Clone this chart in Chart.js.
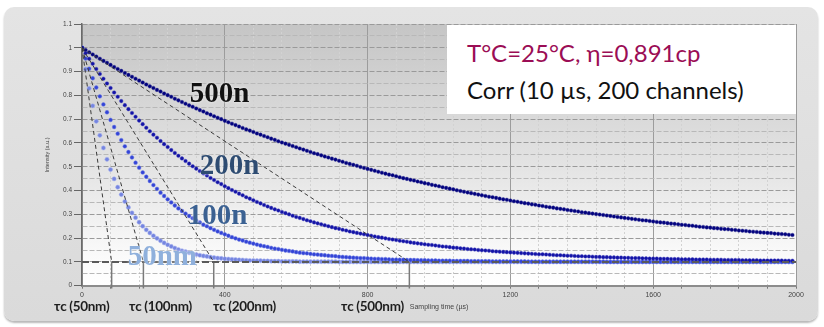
<!DOCTYPE html>
<html>
<head>
<meta charset="utf-8">
<script src="https://cdn.jsdelivr.net/npm/chart.js@4"></script>
<style>
  html, body { margin: 0; padding: 0; background: #fff; }
  #wrap { position: relative; width: 824px; height: 327px; overflow: hidden; }
  #panel {
    position: absolute; left: 4px; top: 7px; width: 814px; height: 314px;
    border-radius: 10px;
    background: linear-gradient(#e4e4e4, #dadada);
    box-shadow: 0 2px 2px rgba(0, 0, 0, 0.28);
  }
  canvas { position: absolute; left: 0; top: 0; }
  #note {
    position: absolute; left: 447px; top: 25px; width: 349px; height: 89px;
    background: #fff; font-family: Lato, "Open Sans", sans-serif; font-size: 24px;
  }
  #note div { position: absolute; left: 20px; line-height: 24px; white-space: nowrap; }
  .tau {
    position: absolute; top: 298px; font-family: Lato, sans-serif; font-weight: bold;
    font-size: 13.5px; color: #1e1e1e; white-space: nowrap; letter-spacing: -0.3px;
  }
</style>
</head>
<body>
<div id="wrap">
  <div id="panel"></div>
  <canvas id="corrChart" width="824" height="327"></canvas>
  <div id="note">
    <div style="top:16px;color:#9b0d55">T°C=25°C, η=0,891cp</div>
    <div style="top:53px;color:#111">Corr (10 µs, 200 channels)</div>
  </div>
  <div class="tau" style="left:54px">τc (50nm)</div>
  <div class="tau" style="left:129px">τc (100nm)</div>
  <div class="tau" style="left:213px">τc (200nm)</div>
  <div class="tau" style="left:341px">τc (500nm)</div>
</div>
<script>
// correlator channels: 10 us step, 200 channels
const sampleStepUs = 10;

const int500 = [
  1.000, 0.991, 0.981, 0.972, 0.963, 0.954, 0.945, 0.937, 0.928, 0.919,
  0.911, 0.903, 0.894, 0.886, 0.878, 0.870, 0.862, 0.854, 0.846, 0.838,
  0.831, 0.823, 0.816, 0.808, 0.801, 0.794, 0.786, 0.779, 0.772, 0.765,
  0.758, 0.752, 0.745, 0.738, 0.732, 0.725, 0.719, 0.712, 0.706, 0.700,
  0.693, 0.687, 0.681, 0.675, 0.669, 0.663, 0.657, 0.652, 0.646, 0.640,
  0.635, 0.629, 0.624, 0.618, 0.613, 0.607, 0.602, 0.597, 0.592, 0.587,
  0.582, 0.577, 0.572, 0.567, 0.562, 0.557, 0.553, 0.548, 0.543, 0.539,
  0.534, 0.530, 0.525, 0.521, 0.516, 0.512, 0.508, 0.504, 0.499, 0.495,
  0.491, 0.487, 0.483, 0.479, 0.475, 0.471, 0.467, 0.464, 0.460, 0.456,
  0.452, 0.449, 0.445, 0.442, 0.438, 0.435, 0.431, 0.428, 0.424, 0.421,
  0.418, 0.414, 0.411, 0.408, 0.405, 0.401, 0.398, 0.395, 0.392, 0.389,
  0.386, 0.383, 0.380, 0.377, 0.374, 0.372, 0.369, 0.366, 0.363, 0.361,
  0.358, 0.355, 0.353, 0.350, 0.347, 0.345, 0.342, 0.340, 0.337, 0.335,
  0.332, 0.330, 0.328, 0.325, 0.323, 0.321, 0.318, 0.316, 0.314, 0.312,
  0.309, 0.307, 0.305, 0.303, 0.301, 0.299, 0.297, 0.295, 0.293, 0.291,
  0.289, 0.287, 0.285, 0.283, 0.281, 0.279, 0.277, 0.275, 0.274, 0.272,
  0.270, 0.268, 0.266, 0.265, 0.263, 0.261, 0.260, 0.258, 0.256, 0.255,
  0.253, 0.252, 0.250, 0.248, 0.247, 0.245, 0.244, 0.242, 0.241, 0.239,
  0.238, 0.237, 0.235, 0.234, 0.232, 0.231, 0.230, 0.228, 0.227, 0.226,
  0.224, 0.223, 0.222, 0.221, 0.219, 0.218, 0.217, 0.216, 0.214, 0.213
];

const int200 = [
  1.000, 0.977, 0.954, 0.933, 0.911, 0.890, 0.870, 0.850, 0.831, 0.812,
  0.794, 0.776, 0.759, 0.742, 0.726, 0.710, 0.694, 0.679, 0.664, 0.649,
  0.635, 0.622, 0.608, 0.595, 0.583, 0.570, 0.558, 0.546, 0.535, 0.524,
  0.513, 0.502, 0.492, 0.482, 0.472, 0.463, 0.453, 0.444, 0.435, 0.427,
  0.418, 0.410, 0.402, 0.395, 0.387, 0.380, 0.372, 0.366, 0.359, 0.352,
  0.346, 0.339, 0.333, 0.327, 0.321, 0.316, 0.310, 0.305, 0.300, 0.294,
  0.289, 0.285, 0.280, 0.275, 0.271, 0.266, 0.262, 0.258, 0.254, 0.250,
  0.246, 0.242, 0.239, 0.235, 0.232, 0.228, 0.225, 0.222, 0.219, 0.216,
  0.213, 0.210, 0.207, 0.204, 0.202, 0.199, 0.196, 0.194, 0.192, 0.189,
  0.187, 0.185, 0.182, 0.180, 0.178, 0.176, 0.174, 0.172, 0.171, 0.169,
  0.167, 0.165, 0.164, 0.162, 0.160, 0.159, 0.157, 0.156, 0.154, 0.153,
  0.152, 0.150, 0.149, 0.148, 0.147, 0.145, 0.144, 0.143, 0.142, 0.141,
  0.140, 0.139, 0.138, 0.137, 0.136, 0.135, 0.134, 0.133, 0.132, 0.132,
  0.131, 0.130, 0.129, 0.128, 0.128, 0.127, 0.126, 0.126, 0.125, 0.124,
  0.124, 0.123, 0.123, 0.122, 0.121, 0.121, 0.120, 0.120, 0.119, 0.119,
  0.118, 0.118, 0.117, 0.117, 0.116, 0.116, 0.116, 0.115, 0.115, 0.114,
  0.114, 0.114, 0.113, 0.113, 0.113, 0.112, 0.112, 0.112, 0.111, 0.111,
  0.111, 0.111, 0.110, 0.110, 0.110, 0.110, 0.109, 0.109, 0.109, 0.109,
  0.108, 0.108, 0.108, 0.108, 0.108, 0.107, 0.107, 0.107, 0.107, 0.107,
  0.106, 0.106, 0.106, 0.106, 0.106, 0.106, 0.106, 0.105, 0.105, 0.105
];

const int100 = [
  1.000, 0.955, 0.912, 0.872, 0.833, 0.796, 0.762, 0.729, 0.697, 0.667,
  0.639, 0.612, 0.586, 0.562, 0.539, 0.517, 0.496, 0.476, 0.458, 0.440,
  0.423, 0.407, 0.391, 0.377, 0.363, 0.350, 0.337, 0.325, 0.314, 0.303,
  0.293, 0.284, 0.274, 0.266, 0.257, 0.250, 0.242, 0.235, 0.228, 0.222,
  0.216, 0.210, 0.204, 0.199, 0.194, 0.190, 0.185, 0.181, 0.177, 0.173,
  0.169, 0.166, 0.163, 0.159, 0.156, 0.154, 0.151, 0.148, 0.146, 0.144,
  0.141, 0.139, 0.137, 0.136, 0.134, 0.132, 0.131, 0.129, 0.128, 0.126,
  0.125, 0.124, 0.122, 0.121, 0.120, 0.119, 0.118, 0.117, 0.116, 0.116,
  0.115, 0.114, 0.113, 0.113, 0.112, 0.112, 0.111, 0.110, 0.110, 0.109,
  0.109, 0.108, 0.108, 0.108, 0.107, 0.107, 0.107, 0.106, 0.106, 0.106,
  0.105, 0.105, 0.105, 0.105, 0.104, 0.104, 0.104, 0.104, 0.104, 0.103,
  0.103, 0.103, 0.103, 0.103, 0.103, 0.102, 0.102, 0.102, 0.102, 0.102,
  0.102, 0.102, 0.102, 0.102, 0.102, 0.101, 0.101, 0.101, 0.101, 0.101,
  0.101, 0.101, 0.101, 0.101, 0.101, 0.101, 0.101, 0.101, 0.101, 0.101,
  0.101, 0.101, 0.101, 0.101, 0.101, 0.101, 0.101, 0.100, 0.100, 0.100,
  0.100, 0.100, 0.100, 0.100, 0.100, 0.100, 0.100, 0.100, 0.100, 0.100,
  0.100, 0.100, 0.100, 0.100, 0.100, 0.100, 0.100, 0.100, 0.100, 0.100,
  0.100, 0.100, 0.100, 0.100, 0.100, 0.100, 0.100, 0.100, 0.100, 0.100,
  0.100, 0.100, 0.100, 0.100, 0.100, 0.100, 0.100, 0.100, 0.100, 0.100,
  0.100, 0.100, 0.100, 0.100, 0.100, 0.100, 0.100, 0.100, 0.100, 0.100
];

const int50 = [
  1.000, 0.910, 0.829, 0.756, 0.691, 0.632, 0.579, 0.531, 0.488, 0.449,
  0.414, 0.383, 0.354, 0.329, 0.306, 0.286, 0.267, 0.250, 0.235, 0.222,
  0.210, 0.199, 0.189, 0.180, 0.172, 0.165, 0.158, 0.152, 0.147, 0.143,
  0.138, 0.134, 0.131, 0.128, 0.125, 0.123, 0.120, 0.118, 0.116, 0.115,
  0.113, 0.112, 0.111, 0.110, 0.109, 0.108, 0.107, 0.106, 0.106, 0.105,
  0.105, 0.104, 0.104, 0.103, 0.103, 0.103, 0.102, 0.102, 0.102, 0.102,
  0.102, 0.101, 0.101, 0.101, 0.101, 0.101, 0.101, 0.101, 0.101, 0.101,
  0.101, 0.101, 0.100, 0.100, 0.100, 0.100, 0.100, 0.100, 0.100, 0.100,
  0.100, 0.100, 0.100, 0.100, 0.100, 0.100, 0.100, 0.100, 0.100, 0.100,
  0.100, 0.100, 0.100, 0.100, 0.100, 0.100, 0.100, 0.100, 0.100, 0.100,
  0.100, 0.100, 0.100, 0.100, 0.100, 0.100, 0.100, 0.100, 0.100, 0.100,
  0.100, 0.100, 0.100, 0.100, 0.100, 0.100, 0.100, 0.100, 0.100, 0.100,
  0.100, 0.100, 0.100, 0.100, 0.100, 0.100, 0.100, 0.100, 0.100, 0.100,
  0.100, 0.100, 0.100, 0.100, 0.100, 0.100, 0.100, 0.100, 0.100, 0.100,
  0.100, 0.100, 0.100, 0.100, 0.100, 0.100, 0.100, 0.100, 0.100, 0.100,
  0.100, 0.100, 0.100, 0.100, 0.100, 0.100, 0.100, 0.100, 0.100, 0.100,
  0.100, 0.100, 0.100, 0.100, 0.100, 0.100, 0.100, 0.100, 0.100, 0.100,
  0.100, 0.100, 0.100, 0.100, 0.100, 0.100, 0.100, 0.100, 0.100, 0.100,
  0.100, 0.100, 0.100, 0.100, 0.100, 0.100, 0.100, 0.100, 0.100, 0.100,
  0.100, 0.100, 0.100, 0.100, 0.100, 0.100, 0.100, 0.100, 0.100, 0.100
];

// tangent construction: start level, baseline and read-off tau_c (us)
const startLevel = 1;
const baseLevel = 0.1;
const tauC = [83, 172, 369, 917];
const curveNames = ['50nm', '100n', '200n', '500n'];

const toPoints = vals => vals.map((v, i) => ({ x: i * sampleStepUs, y: v }));

// curve label anchors (data coords) and colours
const labelStyle = [
  { x: 225, y: 0.119, color: '#8fb0dc' },
  { x: 380, y: 0.291, color: '#3b6192' },
  { x: 413, y: 0.501, color: '#2e4c72' },
  { x: 385, y: 0.802, color: '#111111' }
];

const plotBg = {
  id: 'plotBg',
  beforeDraw(chart) {
    const { ctx, chartArea: a } = chart;
    const g = ctx.createLinearGradient(0, a.top, 0, a.bottom);
    g.addColorStop(0, '#c5c5c5');
    g.addColorStop(0.55, '#e4e4e4');
    g.addColorStop(0.9, '#fbfbfb');
    g.addColorStop(1, '#ffffff');
    ctx.save();
    ctx.fillStyle = g;
    ctx.fillRect(a.left, a.top, a.right - a.left, a.bottom - a.top);
    ctx.restore();
  },
  afterDraw(chart) {
    const { ctx, chartArea: a } = chart;
    ctx.save();
    ctx.strokeStyle = '#9a9a9a';
    ctx.lineWidth = 1;
    ctx.beginPath();
    ctx.moveTo(a.right + 0.5, a.top);
    ctx.lineTo(a.right + 0.5, a.bottom);
    ctx.stroke();
    ctx.restore();
  }
};

const curveLabels = {
  id: 'curveLabels',
  afterDatasetsDraw(chart) {
    const { ctx, scales: { x, y } } = chart;
    ctx.save();
    ctx.font = 'bold 29px "Liberation Serif", serif';
    ctx.textAlign = 'center';
    ctx.textBaseline = 'middle';
    ctx.shadowColor = 'rgba(255,255,255,0.8)';
    ctx.shadowBlur = 3;
    curveNames.forEach((name, i) => {
      const s = labelStyle[i];
      ctx.fillStyle = s.color;
      ctx.fillText(name, x.getPixelForValue(s.x), y.getPixelForValue(s.y));
    });
    ctx.restore();
  }
};

const pointStyles = [
  { bg: '#7585e0', border: 'rgba(170,180,240,0.9)', r: 2.1 },
  { bg: '#3344d6', border: 'rgba(110,125,230,0.8)', r: 1.9 },
  { bg: '#1414a6', border: 'rgba(60,60,190,0.7)', r: 1.8 },
  { bg: '#03037e', border: 'rgba(40,40,150,0.7)', r: 1.8 }
];
const seriesData = [int50, int100, int200, int500];

const datasets = [];
seriesData.forEach((vals, i) => {
  datasets.push({
    label: curveNames[i],
    data: toPoints(vals),
    showLine: false,
    pointRadius: pointStyles[i].r,
    pointBackgroundColor: pointStyles[i].bg,
    pointBorderColor: pointStyles[i].border,
    pointBorderWidth: 0.6,
    order: 10 - i
  });
});
tauC.forEach(t => {
  datasets.push({
    data: [{ x: 0, y: startLevel }, { x: t, y: baseLevel }],
    showLine: true, pointRadius: 0, borderColor: '#3a3a3a',
    borderWidth: 1, borderDash: [4, 3], order: 3
  });
  datasets.push({
    data: [{ x: t, y: baseLevel }, { x: t, y: -0.012 }],
    showLine: true, pointRadius: 0, borderColor: '#7a7a7a',
    borderWidth: 1.5, clip: false, order: 2
  });
});
datasets.push({
  data: [{ x: 0, y: baseLevel }, { x: 2000, y: baseLevel }],
  showLine: true, pointRadius: 0, borderColor: '#5a5a5a',
  borderWidth: 2, borderDash: [7, 3], order: 1
});

const isMajorY = v => Math.round(v * 100) % 10 === 0;

new Chart(document.getElementById('corrChart').getContext('2d'), {
  type: 'scatter',
  data: { datasets },
  options: {
    responsive: false,
    animation: false,
    events: [],
    layout: { padding: { top: 24, right: 28, left: 0, bottom: 0 } },
    plugins: { legend: { display: false }, tooltip: { enabled: false } },
    scales: {
      x: {
        type: 'linear', min: 0, max: 2000,
        ticks: {
          stepSize: 80, autoSkip: false, maxRotation: 0, padding: 2,
          color: '#444', font: { family: 'Liberation Sans', size: 7 },
          callback: v => (v % 400 === 0 ? v : '')
        },
        grid: {
          color: c => (c.tick && c.tick.value % 400 === 0 ? '#9c9c9c' : '#d2d2d2'),
          lineWidth: 1, tickLength: 3, tickColor: '#777'
        },
        border: {
          color: '#8c8c8c', width: 2,
          dash: c => (c.tick && c.tick.value % 400 === 0 ? [] : [2, 2])
        },
        title: {
          display: true, text: 'Sampling time (µs)', color: '#444',
          font: { family: 'Liberation Sans', size: 7 },
          padding: { top: 0, bottom: 16 }
        },
        afterFit: s => { s.height = 41.3; }
      },
      y: {
        min: 0, max: 1.1,
        ticks: {
          stepSize: 0.05, autoSkip: false, padding: 2,
          color: '#444', font: { family: 'Liberation Sans', size: 6.5 },
          callback: v => (isMajorY(v) ? String(Math.round(v * 10) / 10) : '')
        },
        grid: {
          color: c => (c.tick && isMajorY(c.tick.value) ? '#9a9a9a' : '#b8b8b8'),
          lineWidth: 1, tickLength: 8,
          tickColor: c => (c.tick && isMajorY(c.tick.value) ? '#666' : 'rgba(0,0,0,0)')
        },
        border: { color: '#6a6a6a', width: 1.5, dash: [5, 2] },
        title: {
          display: true, text: 'Intensity (a.u.)', color: '#444',
          font: { family: 'Liberation Sans', size: 5.5 },
          padding: { top: 44, bottom: 0 }
        },
        afterFit: s => { s.width = 82; }
      }
    }
  },
  plugins: [plotBg, curveLabels]
});
</script>
</body>
</html>
